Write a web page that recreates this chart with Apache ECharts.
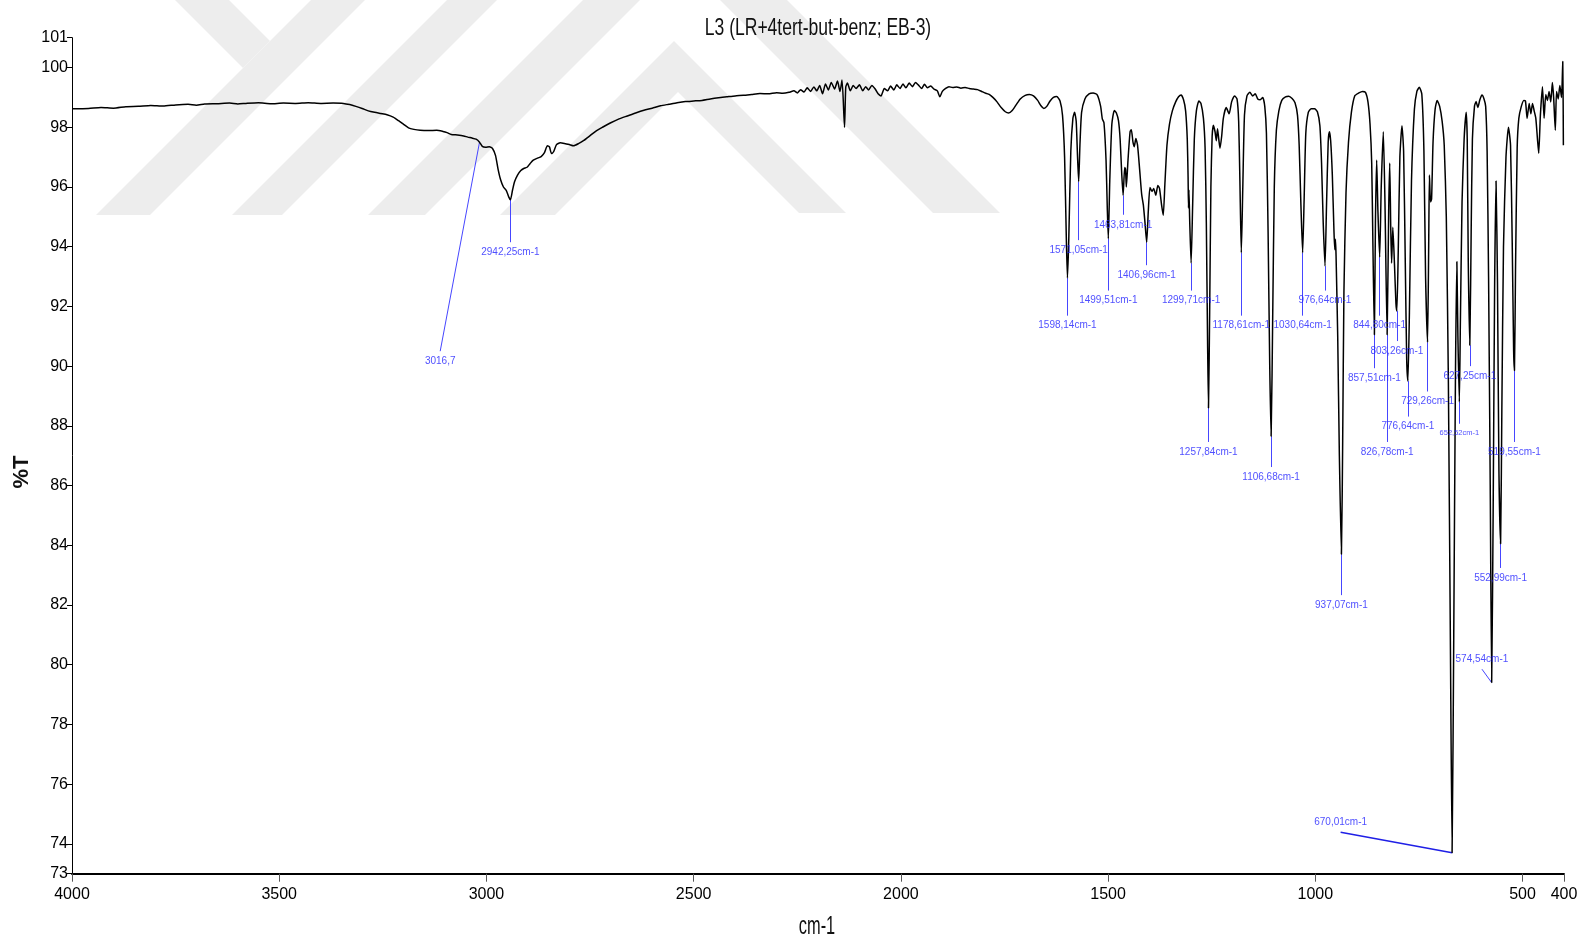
<!DOCTYPE html>
<html>
<head>
<meta charset="utf-8">
<title>L3 (LR+4tert-but-benz; EB-3)</title>
<script src="https://cdn.jsdelivr.net/npm/echarts@6/dist/echarts.min.js"></script>
<style>
  html, body { margin: 0; padding: 0; background: #ffffff; }
  #chart { width: 1582px; height: 944px; }
</style>
</head>
<body>
<div id="chart"></div>
<script>
// FT-IR spectrum, wavenumber (cm-1) against transmittance (%T)
const wavenumbers = [
  4000, 3960, 3930, 3900, 3870, 3840, 3810, 3780, 3750, 3720, 3700, 3680, 3650, 3620, 3600, 3580,
  3550, 3520, 3490, 3460, 3430, 3400, 3370, 3345, 3330, 3315, 3300, 3285, 3270, 3255, 3240, 3225,
  3212, 3200, 3188, 3175, 3160, 3140, 3120, 3105, 3095, 3085, 3070, 3055, 3045, 3035, 3025, 3016.7,
  3010, 3002, 2993, 2985, 2978, 2972, 2966, 2959, 2952, 2946, 2942.25, 2937, 2932, 2925, 2917, 2910,
  2902, 2895, 2887, 2878, 2868, 2860, 2853, 2848, 2843, 2838, 2831, 2822, 2812, 2800, 2790, 2778,
  2765, 2750, 2735, 2720, 2700, 2680, 2660, 2640, 2620, 2600, 2580, 2560, 2540, 2520, 2500, 2480,
  2460, 2440, 2420, 2400, 2380, 2360, 2340, 2320, 2300, 2285, 2270, 2258, 2250, 2242, 2234, 2226,
  2218, 2210, 2203, 2196, 2189, 2182, 2175, 2168, 2160, 2153, 2147, 2142, 2136, 2133, 2129, 2122,
  2115, 2108, 2100, 2092, 2085, 2078, 2070, 2062, 2055, 2048, 2040, 2032, 2025, 2017, 2010, 2002,
  1995, 1988, 1980, 1972, 1965, 1958, 1950, 1943, 1936, 1928, 1920, 1912, 1906, 1900, 1892, 1884,
  1875, 1865, 1855, 1845, 1835, 1825, 1815, 1805, 1795, 1787, 1778, 1768, 1758, 1748, 1740, 1732,
  1722, 1712, 1700, 1690, 1680, 1670, 1662, 1655, 1648, 1640, 1632, 1624, 1616, 1610, 1605, 1601,
  1598.14, 1595, 1590, 1585, 1581, 1577, 1574, 1571.05, 1568, 1564, 1556, 1546, 1536, 1526, 1518, 1514,
  1510, 1505, 1502, 1499.51, 1496, 1491, 1485, 1480, 1475, 1471, 1467, 1463.81, 1460, 1458, 1456, 1452,
  1447, 1444, 1440, 1437, 1433, 1429, 1424, 1419, 1415, 1411, 1406.96, 1403, 1399, 1394, 1390, 1385,
  1380, 1376, 1371, 1367, 1363, 1358, 1352, 1345, 1337, 1330, 1324, 1318, 1313, 1309, 1307, 1306,
  1305, 1303, 1299.71, 1296, 1292, 1287, 1281, 1276, 1270, 1266, 1263, 1260, 1257.84, 1255, 1252, 1249,
  1246, 1242, 1239, 1236, 1233, 1230, 1226, 1222, 1215, 1208, 1202, 1195, 1189, 1185, 1182, 1178.61,
  1175, 1171, 1165, 1158, 1151, 1145, 1139, 1133, 1127, 1122, 1118, 1114, 1110, 1106.68, 1103, 1099,
  1094, 1088, 1081, 1072, 1064, 1056, 1049, 1043, 1039, 1035, 1030.64, 1027, 1023, 1017, 1010, 1002,
  995, 989, 985, 981, 976.64, 973, 969, 966, 963, 959, 955, 953, 951.5, 950, 946, 942,
  937.07, 934, 931, 926, 920, 913, 905, 895, 886, 879, 873, 868, 864, 861, 857.51, 855,
  852, 849, 844.8, 841, 836, 832, 826.78, 823, 820.5, 818, 816, 813, 809, 805.5, 803.26, 800,
  796, 791, 787, 783, 779.5, 776.64, 773, 768, 761, 755, 749, 743, 738, 734, 729.26, 726.5,
  724.7, 722, 719.5, 716, 711, 706, 700, 694, 689, 684, 679, 674, 670.01, 666, 662, 658.5,
  656, 652.52, 650, 646, 641, 636, 633.5, 631, 627.25, 624, 621, 616, 612, 608, 603, 598,
  593, 589, 585.5, 582, 578, 574.54, 571, 567.5, 564, 560.5, 557, 552.99, 550, 546, 540, 534,
  529, 525, 521.5, 519.55, 517, 513, 509, 503, 497, 493, 489, 484, 480, 476, 472, 468,
  464, 461, 457, 452, 448, 444, 440, 436, 432, 428, 425, 421, 418, 414, 410, 406,
  403, 401.5
];
const transmittance = [
  98.62, 98.63, 98.66, 98.64, 98.69, 98.70, 98.73, 98.71, 98.75, 98.77, 98.74, 98.78, 98.79, 98.81, 98.78, 98.80,
  98.82, 98.79, 98.81, 98.80, 98.82, 98.80, 98.81, 98.80, 98.76, 98.70, 98.63, 98.55, 98.50, 98.46, 98.42, 98.34,
  98.22, 98.10, 97.98, 97.93, 97.90, 97.89, 97.90, 97.86, 97.82, 97.76, 97.74, 97.71, 97.67, 97.64, 97.60, 97.50,
  97.36, 97.33, 97.35, 97.28, 97.05, 96.60, 96.25, 96.00, 95.88, 95.66, 95.57, 95.90, 96.18, 96.40, 96.55, 96.62,
  96.66, 96.78, 96.90, 96.96, 97.02, 97.15, 97.38, 97.34, 97.12, 97.18, 97.42, 97.48, 97.46, 97.42, 97.38, 97.45,
  97.56, 97.72, 97.88, 98.00, 98.15, 98.28, 98.38, 98.48, 98.57, 98.64, 98.72, 98.77, 98.82, 98.86, 98.88, 98.90,
  98.95, 98.99, 99.02, 99.05, 99.07, 99.10, 99.13, 99.12, 99.16, 99.14, 99.17, 99.22, 99.15, 99.26, 99.18, 99.32,
  99.20, 99.35, 99.22, 99.40, 99.12, 99.45, 99.25, 99.50, 99.28, 99.55, 99.20, 99.58, 98.00, 99.35, 99.48, 99.22,
  99.40, 99.30, 99.42, 99.22, 99.36, 99.25, 99.40, 99.28, 99.12, 99.05, 99.30, 99.22, 99.38, 99.25, 99.42, 99.30,
  99.45, 99.32, 99.48, 99.36, 99.50, 99.42, 99.30, 99.44, 99.32, 99.38, 99.28, 99.22, 99.02, 99.20, 99.30, 99.36,
  99.33, 99.35, 99.31, 99.33, 99.30, 99.28, 99.26, 99.20, 99.14, 99.10, 99.00, 98.85, 98.66, 98.52, 98.48, 98.55,
  98.75, 98.95, 99.07, 99.10, 99.05, 98.90, 98.72, 98.63, 98.70, 98.88, 99.00, 99.03, 98.88, 98.40, 97.00, 94.40,
  92.95, 94.20, 97.20, 98.30, 98.50, 98.20, 97.10, 96.18, 97.40, 98.50, 98.95, 99.12, 99.15, 99.08, 98.70, 98.28,
  98.15, 96.90, 95.30, 94.27, 96.20, 98.10, 98.56, 98.48, 98.22, 97.60, 96.40, 95.72, 96.65, 96.60, 96.00, 96.90,
  97.85, 97.92, 97.50, 97.35, 97.62, 97.40, 96.60, 95.75, 95.40, 94.80, 94.15, 95.20, 95.98, 95.85, 95.95, 95.72,
  96.05, 95.95, 95.40, 95.05, 96.10, 97.40, 98.10, 98.55, 98.85, 99.02, 99.08, 98.92, 98.55, 97.60, 96.30, 95.30,
  95.90, 94.80, 93.45, 95.40, 97.60, 98.55, 98.88, 98.80, 98.30, 97.30, 94.80, 90.80, 88.60, 91.80, 96.00, 97.70,
  98.07, 97.85, 97.55, 97.95, 97.60, 97.30, 97.70, 98.30, 98.66, 98.45, 98.85, 99.05, 98.95, 98.20, 96.20, 93.80,
  96.00, 98.40, 99.05, 99.17, 99.05, 99.12, 98.95, 98.92, 99.00, 98.70, 97.80, 94.50, 90.00, 87.65, 91.50, 96.00,
  97.90, 98.55, 98.90, 99.02, 99.04, 98.96, 98.82, 98.40, 97.40, 95.50, 93.80, 95.60, 97.80, 98.50, 98.62, 98.62,
  98.52, 98.05, 96.80, 94.80, 93.35, 95.40, 97.50, 97.85, 97.55, 96.40, 94.50, 93.90, 94.25, 93.70, 91.00, 87.00,
  83.70, 87.50, 92.50, 95.80, 97.50, 98.50, 99.05, 99.15, 99.20, 99.17, 98.85, 98.10, 96.80, 94.00, 91.05, 94.80,
  96.90, 95.20, 93.65, 96.00, 97.85, 95.50, 91.05, 95.20, 96.80, 94.60, 93.45, 94.65, 93.40, 92.10, 91.85, 93.80,
  97.00, 98.05, 97.20, 93.50, 90.20, 89.50, 91.80, 96.20, 98.60, 99.20, 99.34, 99.10, 97.20, 93.00, 90.80, 94.00,
  96.40, 95.50, 95.60, 97.50, 98.60, 98.90, 98.70, 98.20, 97.40, 95.00, 89.50, 80.50, 73.70, 81.00, 89.50, 93.50,
  91.00, 88.80, 91.50, 95.50, 97.60, 98.50, 97.60, 93.50, 90.70, 94.50, 97.60, 98.70, 98.86, 98.66, 98.92, 99.08,
  98.95, 98.70, 97.20, 93.00, 86.00, 79.40, 85.00, 92.50, 96.20, 92.80, 86.50, 84.05, 88.50, 94.00, 97.00, 98.00,
  97.40, 94.20, 90.50, 89.85, 93.20, 97.30, 98.30, 98.70, 98.90, 98.88, 98.30, 98.80, 98.45, 98.80, 98.55, 98.30,
  97.60, 97.13, 98.40, 99.36, 98.30, 99.10, 98.90, 99.20, 98.85, 99.50, 99.00, 97.90, 99.20, 98.95, 99.40, 99.00,
  100.20, 97.40
];

// Picked peaks and their printed labels
const peakWavenumbers = [
  3016.7, 2942.25, 1598.14, 1571.05, 1499.51, 1463.81, 1406.96, 1299.71, 1257.84, 1178.61,
  1106.68, 1030.64, 976.64, 937.07, 857.51, 844.8, 826.78, 803.26, 776.64, 729.26,
  670.01, 652.52, 627.25, 574.54, 552.99, 519.55
];
const peakLabels = [
  '3016,7', '2942,25cm-1', '1598,14cm-1', '1571,05cm-1', '1499,51cm-1', '1463,81cm-1', '1406,96cm-1',
  '1299,71cm-1', '1257,84cm-1', '1178,61cm-1', '1106,68cm-1', '1030,64cm-1', '976,64cm-1', '937,07cm-1',
  '857,51cm-1', '844,80cm-1', '826,78cm-1', '803,26cm-1', '776,64cm-1', '729,26cm-1', '670,01cm-1',
  '652,52cm-1', '627,25cm-1', '574,54cm-1', '552,99cm-1', '519,55cm-1'
];

// Axis ticks
const xTicks = [4000, 3500, 3000, 2500, 2000, 1500, 1000, 500, 400];
const yTicks = [73, 74, 76, 78, 80, 82, 84, 86, 88, 90, 92, 94, 96, 98, 100, 101];

// Where each peak's leader line ends and its label sits: [cm-1, %T, side]
const labelAnchors = [
  [3111.6, 90.5, 'bottom'], [2942.25, 94.15, 'bottom'], [1598.14, 91.69, 'bottom'], [1571.05, 94.22, 'bottom'],
  [1499.51, 92.53, 'bottom'], [1463.81, 95.07, 'bottom'], [1406.96, 93.38, 'bottom'], [1299.71, 92.53, 'bottom'],
  [1257.84, 87.46, 'bottom'], [1178.61, 91.69, 'bottom'], [1106.68, 86.62, 'bottom'], [1030.64, 91.69, 'bottom'],
  [976.64, 92.53, 'bottom'], [937.07, 82.33, 'bottom'], [857.51, 89.93, 'bottom'], [844.8, 91.69, 'bottom'],
  [826.78, 87.46, 'bottom'], [803.26, 90.84, 'bottom'], [776.64, 88.31, 'bottom'], [729.26, 89.15, 'bottom'],
  [939, 74.39, 'top'], [652.52, 88.07, 'bottom'], [627.25, 90.0, 'bottom'], [598, 79.85, 'top'],
  [552.99, 83.24, 'bottom'], [519.55, 87.46, 'bottom']
];

const sans = "'Liberation Sans', Arial, sans-serif";

const spectrum = wavenumbers.map((w, i) => [w, transmittance[i]]);
const valueAt = (w) => transmittance[wavenumbers.indexOf(w)];

const leaderLines = peakWavenumbers.map((w, i) => ({
  coords: [[w, valueAt(w)], [labelAnchors[i][0], labelAnchors[i][1]]],
  lineStyle: i === 20 ? { width: 1.6, color: '#1f1fe6' } : undefined
}));

const labelPoints = peakWavenumbers.map((w, i) => {
  const item = {
    value: [labelAnchors[i][0], labelAnchors[i][1]],
    label: { position: labelAnchors[i][2] }
  };
  if (peakLabels[i] === '652,52cm-1') {
    item.label.fontSize = 7.5;
  }
  return item;
});

// light grey watermark shapes behind the plot
const wm = (pts) => ({
  type: 'polygon', silent: true, z: -10,
  shape: { points: pts }, style: { fill: '#ededed' }
});

const plainNumber = (v) => String(v);

const chart = echarts.init(document.getElementById('chart'), null, { renderer: 'canvas' });
chart.setOption({
  animation: false,
  backgroundColor: '#ffffff',
  grid: { left: 72, right: 18, top: 37.7, bottom: 70.3, containLabel: false },
  xAxis: {
    type: 'value', inverse: true, min: 400, max: 4000,
    axisLine: { show: true, onZero: false, lineStyle: { color: '#000', width: 2 } },
    axisTick: { show: true, customValues: xTicks, length: 8, inside: false, lineStyle: { color: '#555', width: 1 } },
    axisLabel: { customValues: xTicks, formatter: plainNumber, margin: 13, color: '#000', fontFamily: sans, fontSize: 16 },
    splitLine: { show: false }
  },
  yAxis: {
    type: 'value', min: 73, max: 101,
    axisLine: { show: true, onZero: false, lineStyle: { color: '#000', width: 1 } },
    axisTick: { show: true, customValues: yTicks, length: 5, lineStyle: { color: '#000', width: 1 } },
    axisLabel: { customValues: yTicks, formatter: plainNumber, margin: 4, color: '#000', fontFamily: sans, fontSize: 16 },
    splitLine: { show: false }
  },
  graphic: [
    // slanted "y": long stroke plus short arm
    wm([[96, 215], [150, 215], [365, 0], [311, 0]]),
    wm([[175, 0], [229, 0], [270, 41], [243, 68]]),
    wm([[232, 215], [282, 215], [497, 0], [447, 0]]),
    // outer chevron
    wm([[368, 215], [685, -102], [1000, 213], [933, 213], [680, -40], [425, 215]]),
    // inner chevron
    wm([[500, 215], [674, 41], [846, 213], [799, 213], [678, 92], [555, 215]]),
    {
      type: 'text', x: 818, y: 28, scaleX: 0.73, silent: true, z: 10,
      style: { text: 'L3 (LR+4tert-but-benz; EB-3)', fill: '#111', align: 'center', verticalAlign: 'middle',
               font: "24px 'Liberation Sans', Arial, sans-serif" }
    },
    {
      type: 'text', x: 817, y: 927, scaleX: 0.63, silent: true, z: 10,
      style: { text: 'cm-1', fill: '#111', align: 'center', verticalAlign: 'middle',
               font: "26px 'Liberation Sans', Arial, sans-serif" }
    },
    {
      type: 'text', x: 22, y: 472, rotation: Math.PI / 2, silent: true, z: 10,
      style: { text: '%T', fill: '#111', align: 'center', verticalAlign: 'middle',
               font: "bold 22px 'Liberation Sans', Arial, sans-serif" }
    }
  ],
  series: [
    {
      type: 'line', name: '%T', data: spectrum, showSymbol: false, smooth: 0.2, z: 4,
      lineStyle: { color: '#000', width: 1.5 }, silent: true
    },
    {
      type: 'lines', coordinateSystem: 'cartesian2d', data: leaderLines, z: 3, silent: true,
      lineStyle: { color: '#4646ff', width: 1, opacity: 1, curveness: 0 }
    },
    {
      type: 'scatter', data: labelPoints, symbolSize: 0.1, z: 5, silent: true,
      itemStyle: { color: 'rgba(0,0,0,0)' },
      label: {
        show: true, distance: 5, color: '#2323ff', fontFamily: sans, fontSize: 10,
        formatter: (p) => peakLabels[p.dataIndex]
      }
    }
  ]
});
</script>
</body>
</html>
